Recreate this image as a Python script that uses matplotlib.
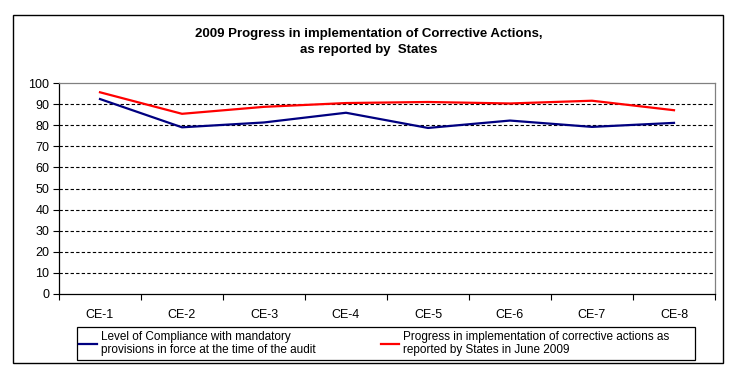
import matplotlib
matplotlib.use("Agg")
import matplotlib.pyplot as plt
from matplotlib.patches import Rectangle

# --- Data ---
categories = ["CE-1", "CE-2", "CE-3", "CE-4", "CE-5", "CE-6", "CE-7", "CE-8"]
compliance = [92.4, 79.0, 81.3, 85.9, 78.7, 82.2, 79.2, 81.1]
progress = [95.6, 85.4, 88.7, 90.5, 91.0, 90.3, 91.6, 87.1]
label_compliance = "Level of Compliance with mandatory\nprovisions in force at the time of the audit"
label_progress = "Progress in implementation of corrective actions as\nreported by States in June 2009"
title = "2009 Progress in implementation of Corrective Actions,\nas reported by  States"

plt.rcParams["font.family"] = ["Liberation Sans", "DejaVu Sans"]

W, H = 752, 370
fig = plt.figure(figsize=(W / 100, H / 100), dpi=100)

# outer chart frame
fig.patches.append(Rectangle((13 / W, 1 - 363 / H), (723 - 13) / W, (363 - 15) / H,
                             transform=fig.transFigure, fill=False,
                             edgecolor="black", linewidth=1.0))

fig.text(369 / W, 1 - 42 / H, title, ha="center", va="center",
         fontsize=9.5, fontweight="bold", linespacing=1.35)

ax = fig.add_axes([59 / W, 1 - 294 / H, (715 - 59) / W, (294 - 83) / H])

x = list(range(1, len(categories) + 1))
blue, = ax.plot(x, compliance, color="#000080", linewidth=1.6)
red, = ax.plot(x, progress, color="#FF0000", linewidth=1.6)

ax.set_xlim(0.5, len(categories) + 0.5)
ax.set_ylim(0, 100)
ax.set_yticks(range(0, 101, 10))
ax.set_xticks(x)
ax.set_xticklabels(categories)
ax.set_xticks([i + 0.5 for i in range(0, len(categories) + 1)], minor=True)

ax.tick_params(axis="x", which="major", length=0, pad=11, labelsize=9)
ax.tick_params(axis="x", which="minor", length=4, direction="out", width=0.8)
ax.tick_params(axis="y", length=4, direction="out", width=0.8, labelsize=9, pad=3)

for yv in range(10, 100, 10):
    ax.axhline(yv, color="black", linewidth=0.8, linestyle=(0, (3, 2)), zorder=0)

ax.spines["left"].set_color("black")
ax.spines["bottom"].set_color("black")
ax.spines["top"].set_color("#808080")
ax.spines["right"].set_color("#808080")
for s in ax.spines.values():
    s.set_linewidth(0.9)

# legend: one frame, two entries placed like the original
fig.patches.append(Rectangle((77 / W, 1 - 360 / H), (695 - 77) / W, (360 - 327) / H,
                             transform=fig.transFigure, fill=False,
                             edgecolor="black", linewidth=0.9))
for handle, text, x0 in [(blue, label_compliance, 79), (red, label_progress, 381)]:
    fig.legend([handle], [text], loc="center left",
               bbox_to_anchor=(x0 / W, 1 - 343.5 / H), fontsize=8.5,
               frameon=False, handlelength=1.5, handletextpad=0.35,
               borderpad=0.0, borderaxespad=0.0)

fig.savefig("out.png", dpi=100)
